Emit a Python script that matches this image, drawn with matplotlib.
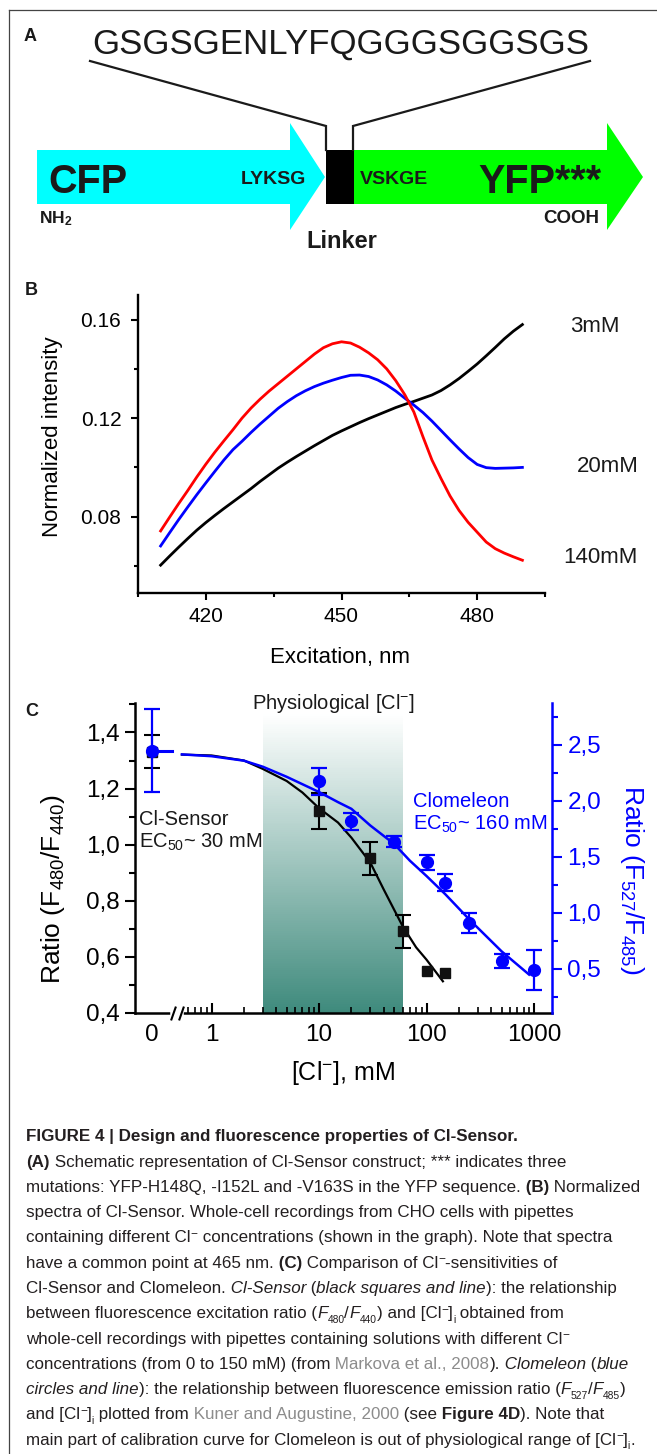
import numpy as np
import matplotlib
matplotlib.use("Agg")
import matplotlib.pyplot as plt
import matplotlib.transforms as mtransforms
from matplotlib.patches import Polygon, Rectangle
from matplotlib.path import Path
from matplotlib.ticker import MultipleLocator, FixedLocator, FuncFormatter, NullFormatter
from matplotlib import font_manager

plt.rcParams['font.family'] = ['Liberation Sans', 'DejaVu Sans']
plt.rcParams['mathtext.fontset'] = 'custom'
plt.rcParams['mathtext.rm'] = 'Liberation Sans'
plt.rcParams['mathtext.it'] = 'Liberation Sans:italic'
plt.rcParams['mathtext.bf'] = 'Liberation Sans:bold'

# ---------------- data: panel B (normalized excitation spectra) ----------------
EXCITATION_NM = [410, 412, 414, 416, 418, 420, 422, 424, 426, 428, 430, 432, 434, 436, 438, 440, 442, 444,
                 446, 448, 450, 452, 454, 456, 458, 460, 462, 464, 466, 468, 470, 472, 474, 476, 478, 480,
                 482, 484, 486, 488, 490]
INT_3MM = [0.0603, 0.0640, 0.0676, 0.0711, 0.0745, 0.0776, 0.0805, 0.0833, 0.0860, 0.0887, 0.0914,
           0.0943, 0.0970, 0.0997, 0.1021, 0.1044, 0.1066, 0.1088, 0.1109, 0.1130, 0.1148, 0.1165,
           0.1182, 0.1198, 0.1213, 0.1228, 0.1243, 0.1256, 0.1268, 0.1281, 0.1294, 0.1312, 0.1335,
           0.1361, 0.1390, 0.1420, 0.1453, 0.1487, 0.1522, 0.1553, 0.1580]
INT_20MM = [0.0681, 0.0735, 0.0788, 0.0839, 0.0889, 0.0937, 0.0984, 0.1030, 0.1072, 0.1106, 0.1142,
            0.1176, 0.1208, 0.1240, 0.1267, 0.1291, 0.1311, 0.1328, 0.1342, 0.1354, 0.1365, 0.1374,
            0.1375, 0.1369, 0.1355, 0.1335, 0.1310, 0.1281, 0.1253, 0.1223, 0.1188, 0.1150, 0.1112,
            0.1075, 0.1040, 0.1012, 0.0999, 0.0996, 0.0997, 0.0998, 0.1000]
INT_140MM = [0.0742, 0.0798, 0.0853, 0.0906, 0.0961, 0.1013, 0.1062, 0.1108, 0.1153, 0.1200, 0.1241,
             0.1277, 0.1310, 0.1340, 0.1370, 0.1400, 0.1430, 0.1460, 0.1486, 0.1502, 0.1510, 0.1505,
             0.1488, 0.1465, 0.1437, 0.1400, 0.1352, 0.1295, 0.1225, 0.1125, 0.1030, 0.0955, 0.0884,
             0.0825, 0.0777, 0.0737, 0.0697, 0.0670, 0.0652, 0.0637, 0.0623]
SPECTRA_LABELS = ['3mM', '20mM', '140mM']

# ---------------- data: panel C (calibration curves) ----------------
CL_SENSOR_CONC = [0, 10, 30, 60, 100, 150]
CL_SENSOR_RATIO = [1.332, 1.120, 0.951, 0.691, 0.551, 0.543]
CL_SENSOR_ERR = [0.060, 0.063, 0.060, 0.058, 0.0, 0.0]
CL_SENSOR_FIT_CONC = [0.53, 1, 2, 3, 5, 7, 10, 15, 20, 30, 40, 60, 80, 100, 142]
CL_SENSOR_FIT_RATIO = [1.321, 1.318, 1.300, 1.270, 1.227, 1.186, 1.130, 1.079, 1.025, 0.936, 0.840,
                       0.709, 0.634, 0.590, 0.513]
CLOM_CONC = [0, 10, 20, 50, 100, 150, 250, 500, 1000]
CLOM_RATIO = [2.45, 2.176, 1.817, 1.637, 1.451, 1.271, 0.912, 0.573, 0.492]
CLOM_ERR = [0.37, 0.12, 0.08, 0.05, 0.07, 0.075, 0.09, 0.06, 0.18]
CLOM_FIT_CONC = [0.53, 1, 2, 3, 5, 7, 10, 15, 20, 30, 50, 70, 100, 150, 250, 500, 900]
CLOM_FIT_RATIO = [2.416, 2.400, 2.360, 2.306, 2.216, 2.150, 2.080, 1.990, 1.930, 1.781, 1.616, 1.467,
                  1.330, 1.166, 0.942, 0.657, 0.450]
CLOM_STUB_CONC = [0, 0.43]
PHYS_RANGE = [3, 60]
CONC_TICKS = [0, 1, 10, 100, 1000]
CONC_TICK_LABELS = ['0', '1', '10', '100', '1000']
ZERO_POS = 0.28          # where "0" sits on the broken log axis
BREAK_POS = [0.44, 0.52]  # axis-break marks
GRAD_TOP = 1.465

BLUE = '#0000ff'
RED = '#ff0000'
INK = '#1a1a1a'

# ---------------- figure & pixel canvas ----------------
W, H = 657, 1454
fig = plt.figure(figsize=(W / 100, H / 100), dpi=100)
canvas = fig.add_axes([0, 0, 1, 1])
canvas.set_xlim(0, W)
canvas.set_ylim(H, 0)
canvas.axis('off')


def px_axes(l, t, r, b):
    return fig.add_axes([l / W, 1 - b / H, (r - l) / W, (b - t) / H])


# frame
canvas.plot([9, W], [10, 10], color='#444444', lw=0.9)
canvas.plot([9, 9], [10, H], color='#444444', lw=0.9)

# ---------------- panel A (schematic) ----------------
canvas.add_patch(Polygon([(37, 150), (290, 150), (290, 123), (325, 177), (290, 230), (290, 204), (37, 204)],
                         closed=True, fc='#00ffff', ec='none'))
canvas.add_patch(Polygon([(354, 150), (607, 150), (607, 123), (643, 177), (607, 230), (607, 204), (354, 204)],
                         closed=True, fc='#00ff00', ec='none'))
canvas.add_patch(Rectangle((326, 150), 28, 54, fc='black', ec='none'))
canvas.plot([90, 326, 326], [61, 126, 150], color=INK, lw=1.6, solid_joinstyle='miter')
canvas.plot([590, 353, 353], [61, 126, 150], color=INK, lw=1.6, solid_joinstyle='miter')

canvas.text(24, 40.7, 'A', fontsize=13, fontweight='bold', va='baseline', color=INK)
canvas.text(341, 53.3, 'GSGSGENLYFQGGGSGGSGS', fontsize=25, ha='center', va='baseline', color=INK)
canvas.text(48, 193, 'CFP', fontsize=28.5, fontweight='bold', va='baseline', color=INK)
canvas.text(241, 184.3, 'LYKSG', fontsize=14, fontweight='bold', va='baseline', color=INK)
canvas.text(360, 183.5, 'VSKGE', fontsize=14, fontweight='bold', va='baseline', color=INK)
canvas.text(478, 193, 'YFP***', fontsize=28.5, fontweight='bold', va='baseline', color=INK)
canvas.text(39, 223, r'NH$_{\mathbf{2}}$', fontsize=12.5, fontweight='bold', va='baseline', color=INK)
canvas.text(543, 223, 'COOH', fontsize=13.5, fontweight='bold', va='baseline', color=INK)
canvas.text(342, 248, 'Linker', fontsize=17, fontweight='bold', ha='center', va='baseline', color=INK)

# ---------------- panel B ----------------
canvas.text(25, 295, 'B', fontsize=13, fontweight='bold', va='baseline', color=INK)
axB = px_axes(138, 295, 545, 593)
axB.set_facecolor('none')
axB.plot(EXCITATION_NM, INT_3MM, color='black', lw=2)
axB.plot(EXCITATION_NM, INT_20MM, color=BLUE, lw=2)
axB.plot(EXCITATION_NM, INT_140MM, color=RED, lw=2)
axB.set_xlim(405, 495)
axB.set_ylim(0.049, 0.170)
for s in ('top', 'right'):
    axB.spines[s].set_visible(False)
for s in ('left', 'bottom'):
    axB.spines[s].set_linewidth(1.7)
axB.xaxis.set_major_locator(MultipleLocator(30))
axB.xaxis.set_minor_locator(MultipleLocator(15))
axB.yaxis.set_major_locator(MultipleLocator(0.04))
axB.yaxis.set_minor_locator(MultipleLocator(0.02))
axB.yaxis.set_major_formatter(FuncFormatter(lambda v, p: f'{v:.2f}'))
axB.tick_params(which='major', direction='out', length=5, width=1.5, labelsize=15)
axB.tick_params(which='minor', direction='out', length=3, width=1.5)
axB.tick_params(axis='y', pad=7)
axB.tick_params(axis='x', pad=5)
axB.set_ylabel('Normalized intensity', fontsize=16)
axB.yaxis.set_label_coords(-0.209, 0.525)
axB.yaxis.label.set_va('center')
axB.set_xlabel('Excitation, nm', fontsize=16)
axB.xaxis.set_label_coords(0.496, -0.218)
axB.xaxis.label.set_va('center')
for lab, (lx, ly) in zip(SPECTRA_LABELS, [(570, 331.7), (577, 472), (563, 563.3)]):
    canvas.text(lx, ly, lab, fontsize=16, va='baseline', color=INK)

# ---------------- panel C ----------------
canvas.text(25, 715.7, 'C', fontsize=13, fontweight='bold', va='baseline', color=INK)
axC = px_axes(135, 703, 552, 1013)
axC.set_facecolor('none')
axC.set_xscale('log')
axC.set_xlim(0.194, 1470)
axC.set_ylim(0.4, 1.505)

# physiological range gradient
teal = np.array([0x3e, 0x8a, 0x7c]) / 255.0
N = 160
ys = np.linspace(0.4, GRAD_TOP, N + 1)
for i in range(N):
    t = 1 - (i + 0.5) / N
    col = 1 - t * (1 - teal)
    axC.fill_between(PHYS_RANGE, ys[i], ys[i + 1] + 0.002, color=col, lw=0, antialiased=False, zorder=0)


def zpos(arr):
    a = np.asarray(arr, dtype=float)
    return np.where(a == 0, ZERO_POS, a)


sx = zpos(CL_SENSOR_CONC)
sy = np.asarray(CL_SENSOR_RATIO)
se = np.asarray(CL_SENSOR_ERR)
axC.plot(CL_SENSOR_FIT_CONC, CL_SENSOR_FIT_RATIO, color='black', lw=1.6, zorder=3)
m = se > 0
axC.errorbar(sx[m], sy[m], yerr=se[m], fmt='none', ecolor='black', elinewidth=1.5, capsize=6,
             capthick=1.5, zorder=4)
axC.plot(sx, sy, 's', color='#111111', ms=7.5, zorder=5)

for s in ('top', 'right'):
    axC.spines[s].set_visible(False)
for s in ('left', 'bottom'):
    axC.spines[s].set_linewidth(1.8)

axC.set_xticks(zpos(CONC_TICKS))
axC.set_xticklabels(CONC_TICK_LABELS)
minor = [mm * 10.0 ** e for e in range(-1, 3) for mm in range(2, 10)]
minor = [v for v in minor if v > 0.55]
axC.xaxis.set_minor_locator(FixedLocator(minor))
axC.xaxis.set_minor_formatter(NullFormatter())
axC.xaxis.get_major_ticks()[0].tick1line.set_visible(False)
axC.yaxis.set_major_locator(MultipleLocator(0.2))
axC.yaxis.set_minor_locator(MultipleLocator(0.1))
comma = FuncFormatter(lambda v, p: f'{v:.1f}'.replace('.', ','))
axC.yaxis.set_major_formatter(comma)
axC.tick_params(axis='y', which='major', direction='out', length=7, width=1.5, labelsize=17.5, pad=4)
axC.tick_params(axis='y', which='minor', direction='out', length=4, width=1.5)
axC.tick_params(axis='x', which='major', direction='in', length=7, width=1.5, labelsize=17.5, pad=8)
axC.tick_params(axis='x', which='minor', direction='in', length=4, width=1.2)

# axis break
btrans = mtransforms.blended_transform_factory(axC.transData, axC.transAxes)
axC.plot(BREAK_POS, [0, 0], color='white', lw=4, transform=btrans, clip_on=False, zorder=3)
slash = Path([(-0.35, -1), (0.35, 1)], [Path.MOVETO, Path.LINETO])
axC.plot(BREAK_POS, [0, 0], linestyle='none', marker=slash, ms=10, mew=1.5, mec='black',
         transform=btrans, clip_on=False, zorder=4)

axC.set_ylabel(r'Ratio (F$_{480}$/F$_{440}$)', fontsize=19)
axC.yaxis.set_label_coords(-0.197, 0.40)
axC.yaxis.label.set_va('center')
axC.set_xlabel(r'[Cl$^{-}$], mM', fontsize=18)
axC.xaxis.set_label_coords(0.499, -0.194)
axC.xaxis.label.set_va('center')

ax2 = axC.twinx()
ax2.set_ylim(0.107, 2.875)
cx = zpos(CLOM_CONC)
ax2.plot(zpos(CLOM_STUB_CONC), [CLOM_RATIO[0]] * 2, color=BLUE, lw=2.2, zorder=3)
ax2.plot(CLOM_FIT_CONC, CLOM_FIT_RATIO, color=BLUE, lw=1.8, zorder=3)
ax2.errorbar(cx, CLOM_RATIO, yerr=CLOM_ERR, fmt='o', color=BLUE, ms=8.5, elinewidth=1.6, capsize=6,
             capthick=1.6, zorder=4)
for s in ('top', 'left', 'bottom'):
    ax2.spines[s].set_visible(False)
ax2.spines['right'].set_color(BLUE)
ax2.spines['right'].set_linewidth(1.8)
ax2.yaxis.set_major_locator(MultipleLocator(0.5))
ax2.yaxis.set_minor_locator(MultipleLocator(0.25))
ax2.yaxis.set_major_formatter(comma)
ax2.tick_params(axis='y', which='major', direction='out', length=7, width=1.5, labelsize=17.5, pad=4,
                colors=BLUE)
ax2.tick_params(axis='y', which='minor', direction='out', length=4, width=1.5, colors=BLUE)
ax2.set_ylabel(r'Ratio (F$_{527}$/F$_{485}$)', fontsize=19, color=BLUE, rotation=270)
ax2.yaxis.set_label_coords(1.192, 0.43)
ax2.yaxis.label.set_va('center')

canvas.text(333, 709, r'Physiological [Cl$^{-}$]', fontsize=14.5, ha='center', va='baseline', color=INK)
canvas.text(139, 825, 'Cl-Sensor', fontsize=14.5, va='baseline', color=INK)
canvas.text(139, 848, r'EC$_{50}$~ 30 mM', fontsize=14.5, va='baseline', color=INK)
canvas.text(413, 806.7, 'Clomeleon', fontsize=14.5, va='baseline', color=BLUE)
canvas.text(413, 830, r'EC$_{50}$~ 160 mM', fontsize=14.5, va='baseline', color=BLUE)

# ---------------- caption ----------------
names = {f.name for f in font_manager.fontManager.ttflist}
if 'Liberation Sans Narrow' in names:
    CAP_FONT, CAP_FS = 'Liberation Sans Narrow', 13.8 * 1.06
else:
    CAP_FONT, CAP_FS = 'Liberation Sans', 11.6 * 1.06

CAPTION = [
    [("FIGURE 4 | Design and fluorescence properties of Cl-Sensor.", 'b')],
    [("(A)", 'b'), (" Schematic representation of Cl-Sensor construct; *** indicates three", 'n')],
    [("mutations: YFP-H148Q, -I152L and -V163S in the YFP sequence.", 'n'), (" (B)", 'b'), (" Normalized", 'n')],
    [("spectra of Cl-Sensor. Whole-cell recordings from CHO cells with pipettes", 'n')],
    [("containing different Cl", 'n'), ("\u2212", 'sup'), (" concentrations (shown in the graph). Note that spectra", 'n')],
    [("have a common point at 465 nm.", 'n'), (" (C)", 'b'), (" Comparison of Cl", 'n'), ("\u2212", 'sup'),
     ("-sensitivities of", 'n')],
    [("Cl-Sensor and Clomeleon.", 'n'), (" Cl-Sensor", 'i'), (" (", 'n'), ("black squares and line", 'i'),
     ("): the relationship", 'n')],
    [("between fluorescence excitation ratio (", 'n'), ("F", 'i'), ("480", 'sub'), ("/", 'n'), ("F", 'i'),
     ("440", 'sub'), (") and [Cl", 'n'), ("\u2212", 'sup'), ("]", 'n'), ("i", 'sub'), (" obtained from", 'n')],
    [("whole-cell recordings with pipettes containing solutions with different Cl", 'n'), ("\u2212", 'sup')],
    [("concentrations (from 0 to 150 mM) (from", 'n'), (" Markova et al., 2008", 'g'), (").", 'n'),
     (" Clomeleon", 'i'), (" (", 'n'), ("blue", 'i')],
    [("circles and line", 'i'), ("): the relationship between fluorescence emission ratio (", 'n'), ("F", 'i'),
     ("527", 'sub'), ("/", 'n'), ("F", 'i'), ("485", 'sub'), (")", 'n')],
    [("and [Cl", 'n'), ("\u2212", 'sup'), ("]", 'n'), ("i", 'sub'), (" plotted from", 'n'),
     (" Kuner and Augustine, 2000", 'g'), (" (see", 'n'), (" Figure 4D", 'b'), ("). Note that", 'n')],
    [("main part of calibration curve for Clomeleon is out of physiological range of [Cl", 'n'),
     ("\u2212", 'sup'), ("]", 'n'), ("i", 'sub'), (".", 'n')],
]


def draw_runs(runs, x0, yb, fs):
    prev = None
    for text, style in runs:
        kw = dict(fontsize=fs, family=[CAP_FONT, 'DejaVu Sans'], color='#231f20', va='baseline', ha='left')
        dy = 0.0
        if style == 'b':
            kw['fontweight'] = 'bold'
        elif style == 'i':
            kw['fontstyle'] = 'italic'
        elif style == 'g':
            kw['color'] = '#8c8c8c'
        elif style == 'sub':
            kw['fontsize'] = fs * 0.6
            dy = 4.5
        elif style == 'sup':
            kw['fontsize'] = fs * 0.7
            dy = -6.5
        if prev is None:
            t = canvas.annotate(text, xy=(x0, yb + dy), xycoords='data', annotation_clip=False, **kw)
        else:
            t = canvas.annotate(text, xy=(1, yb + dy), xycoords=(prev, 'data'), annotation_clip=False, **kw)
        prev = t


draw_runs(CAPTION[0], 26, 1141, CAP_FS)
for k, runs in enumerate(CAPTION[1:]):
    draw_runs(runs, 26, 1166.5 + 25.3 * k, CAP_FS)

fig.savefig('out.png', dpi=100)
